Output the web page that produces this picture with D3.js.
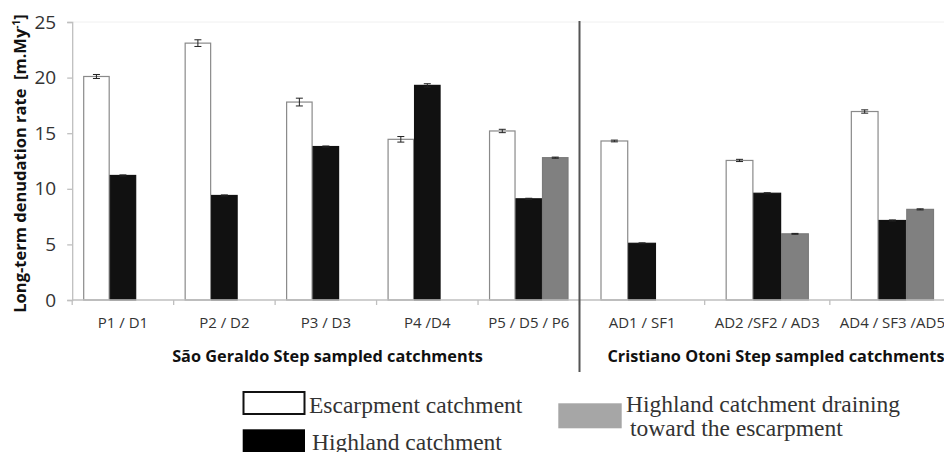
<!DOCTYPE html>
<html>
<head>
<meta charset="utf-8">
<script src="https://cdn.jsdelivr.net/npm/d3@7"></script>
<style>
  html, body { margin: 0; padding: 0; background: #fff; }
  svg { display: block; }
</style>
</head>
<body>
<svg id="chart" width="944" height="452"></svg>
<script>
// Catchment pairs / triplets along each step
const groupsSaoGeraldo = ["P1 / D1", "P2 / D2", "P3 / D3", "P4 /D4", "P5 / D5 / P6"];
const groupsCristiano = ["AD1 / SF1", "AD2 /SF2 / AD3", "AD4 / SF3 /AD5"];

// Long-term denudation rates [m/My], in the order of the groups above (SG first, then CO)
const escarpment    = [20.1, 23.1, 17.8, 14.45, 15.2, 14.3, 12.55, 16.95];
const escarpmentErr = [0.18, 0.3, 0.35, 0.25, 0.15, 0.08, 0.1, 0.15];
const highland      = [11.2, 9.4, 13.8, 19.3, 9.1, 5.1, 9.6, 7.15];
const highlandErr   = [0.05, 0.05, 0.05, 0.15, 0.05, 0.04, 0.05, 0.05];
const draining      = [null, null, null, null, 12.8, null, 5.95, 8.15];
const drainingErr   = [null, null, null, null, 0.05, null, 0.04, 0.05];

const yTicks = [0, 5, 10, 15, 20, 25];
const seriesKeys = ["esc", "high", "drain"];

const svg = d3.select("#chart");

const axisColor = "#bfbfbf";
const x0 = 72.2, xSep = 579.5, xEnd = 955;
const yTop = 22, yBase = 300;

const y = d3.scaleLinear().domain([0, 25]).range([yBase, yTop]);

// faint plot-area top edge
svg.append("line")
  .attr("x1", x0).attr("x2", 944).attr("y1", yTop).attr("y2", yTop)
  .attr("stroke", "#f0f0f0").attr("stroke-width", 1);

// Y axis
const yAxis = svg.append("g")
  .attr("transform", `translate(${x0},0)`)
  .call(d3.axisLeft(y).tickValues(yTicks).tickSize(5).tickPadding(11).tickFormat(d3.format("d")));
yAxis.select(".domain").attr("stroke", axisColor).attr("stroke-width", 1.3);
yAxis.selectAll(".tick line").attr("stroke", axisColor).attr("stroke-width", 1.3);
yAxis.selectAll(".tick text")
  .attr("font-family", "'Open Sans', sans-serif")
  .attr("font-size", 19)
  .attr("fill", "#333");

// Y axis title
const yTitle = svg.append("text")
  .attr("transform", "translate(25.5,163.5) rotate(-90)")
  .attr("text-anchor", "middle")
  .attr("font-family", "'Open Sans', sans-serif")
  .attr("font-weight", 700)
  .attr("font-size", 16.5)
  .attr("fill", "#111");
yTitle.append("tspan").text("Long-term denudation rate\u00a0\u00a0[m.My");
yTitle.append("tspan").attr("font-size", 10).attr("dy", -6).text("-1");
yTitle.append("tspan").attr("dy", 6).text("]");

// Build rows for each panel
function rows(names, offset) {
  return names.map((name, i) => {
    const k = i + offset;
    return {
      name,
      values: [
        { key: "esc",   v: escarpment[k], e: escarpmentErr[k] },
        { key: "high",  v: highland[k],   e: highlandErr[k] },
        { key: "drain", v: draining[k],   e: drainingErr[k] }
      ].filter(d => d.v != null)
    };
  });
}

const fills = { esc: "#ffffff", high: "#111111", drain: "#808080" };
const strokes = { esc: "#8a8a8a", high: "#111111", drain: "#7a7a7a" };

function panel(names, offset, xStart, xStop, innerPad) {
  const xg = d3.scaleBand().domain(names).range([xStart, xStop]).padding(0);
  const bw = xg.bandwidth();
  const xs = d3.scaleBand().domain(seriesKeys).range([innerPad, bw - innerPad]).padding(0);

  const g = svg.append("g");

  // category tick marks at band boundaries
  g.selectAll("line.tick").data(names).join("line")
    .attr("class", "tick")
    .attr("x1", d => xg(d)).attr("x2", d => xg(d))
    .attr("y1", yBase).attr("y2", yBase + 5)
    .attr("stroke", axisColor).attr("stroke-width", 1.3);

  const grp = g.selectAll("g.grp").data(rows(names, offset)).join("g")
    .attr("class", "grp")
    .attr("transform", d => `translate(${xg(d.name)},0)`);

  grp.selectAll("rect").data(d => d.values).join("rect")
    .attr("x", d => xs(d.key) + 0.5)
    .attr("width", xs.bandwidth() - 1)
    .attr("y", d => y(d.v))
    .attr("height", d => y(0) - y(d.v))
    .attr("fill", d => fills[d.key])
    .attr("stroke", d => strokes[d.key])
    .attr("stroke-width", 1.2);

  // error bars
  const eb = grp.selectAll("g.err").data(d => d.values).join("g").attr("class", "err");
  const cx = d => xs(d.key) + xs.bandwidth() / 2;
  eb.append("line")
    .attr("x1", cx).attr("x2", cx)
    .attr("y1", d => y(d.v + d.e)).attr("y2", d => y(d.v - d.e))
    .attr("stroke", "#222").attr("stroke-width", 1);
  eb.append("line")
    .attr("x1", d => cx(d) - 3.5).attr("x2", d => cx(d) + 3.5)
    .attr("y1", d => y(d.v + d.e)).attr("y2", d => y(d.v + d.e))
    .attr("stroke", "#222").attr("stroke-width", 1);
  eb.append("line")
    .attr("x1", d => cx(d) - 3.5).attr("x2", d => cx(d) + 3.5)
    .attr("y1", d => y(d.v - d.e)).attr("y2", d => y(d.v - d.e))
    .attr("stroke", "#222").attr("stroke-width", 1);

  // x axis baseline
  g.append("line")
    .attr("x1", xStart).attr("x2", xStop)
    .attr("y1", yBase).attr("y2", yBase)
    .attr("stroke", axisColor).attr("stroke-width", 1.3);

  // category labels
  g.selectAll("text.cat").data(names).join("text")
    .attr("class", "cat")
    .attr("x", d => xg(d) + bw / 2)
    .attr("y", 328)
    .attr("text-anchor", "middle")
    .attr("font-family", "'Open Sans', sans-serif")
    .attr("font-size", 15)
    .attr("fill", "#333")
    .text(d => d);

  return xg;
}

panel(groupsSaoGeraldo, 0, x0, xSep, 11);
panel(groupsCristiano, groupsSaoGeraldo.length, xSep, xEnd, 21);

// panel separator
svg.append("line")
  .attr("x1", xSep).attr("x2", xSep).attr("y1", 21).attr("y2", 372)
  .attr("stroke", "#555").attr("stroke-width", 2);

// panel titles
const titleStyle = sel => sel
  .attr("text-anchor", "middle")
  .attr("font-family", "'Open Sans', sans-serif")
  .attr("font-weight", 700)
  .attr("font-size", 16.3)
  .attr("fill", "#111");
svg.append("text").attr("x", 327.5).attr("y", 361.7).call(titleStyle)
  .text("São Geraldo Step sampled catchments");
svg.append("text").attr("x", 776).attr("y", 361.7).call(titleStyle)
  .text("Cristiano Otoni Step sampled catchments");

// Legend
const lg = svg.append("g")
  .attr("font-family", "'Liberation Serif', 'Times New Roman', serif")
  .attr("font-size", 23.5)
  .attr("fill", "#333");
lg.append("rect").attr("x", 243.5).attr("y", 392).attr("width", 61).attr("height", 22)
  .attr("fill", "#fff").attr("stroke", "#111").attr("stroke-width", 2);
lg.append("text").attr("x", 309).attr("y", 412.5).text("Escarpment catchment");
lg.append("rect").attr("x", 242.7).attr("y", 429.3).attr("width", 62.3).attr("height", 30)
  .attr("fill", "#000");
lg.append("text").attr("x", 312).attr("y", 450).text("Highland catchment");
lg.append("rect").attr("x", 558.3).attr("y", 403.3).attr("width", 63.4).attr("height", 25)
  .attr("fill", "#a6a6a6");
lg.append("text").attr("x", 626).attr("y", 412).text("Highland catchment draining");
lg.append("text").attr("x", 630).attr("y", 435.5).text("toward the escarpment");
</script>
</body>
</html>
